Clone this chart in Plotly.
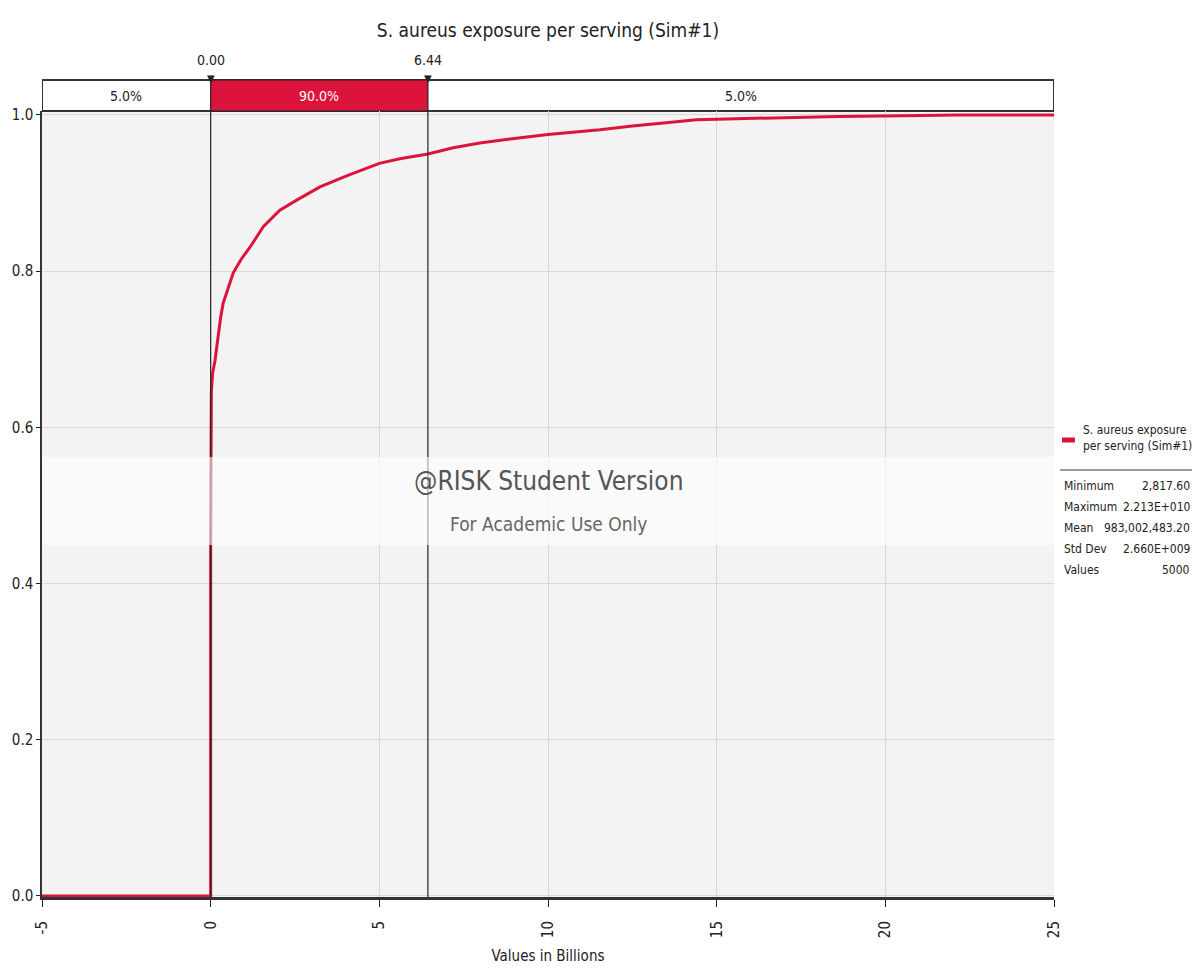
import plotly.graph_objects as go

# ---- data (values in billions) ----
cdf_x = [-5.0, 0.0, 0.0, 0.0, 0.02, 0.06, 0.13, 0.18, 0.23, 0.30, 0.37, 0.50, 0.67, 0.90,
         1.17, 1.56, 2.05, 2.55, 3.24, 4.03, 4.72, 5.0, 5.61, 6.44, 7.19, 7.98, 9.0, 10.0,
         11.54, 12.5, 13.5, 14.4, 15.3, 16.3, 17.2, 18.6, 20.5, 22.13, 25.0]
cdf_p = [0.0, 0.0, 0.45, 0.60, 0.645, 0.67, 0.686, 0.703, 0.72, 0.742, 0.759, 0.777, 0.798, 0.815,
         0.831, 0.857, 0.878, 0.891, 0.908, 0.922, 0.933, 0.938, 0.944, 0.950, 0.958, 0.964, 0.970, 0.975,
         0.981, 0.986, 0.990, 0.994, 0.995, 0.996, 0.997, 0.998, 0.999, 1.0, 1.0]

split_lo = 0.00
split_hi = 6.44
x_min, x_max = -5, 25
seg_pcts = ["5.0%", "90.0%", "5.0%"]

series_name = "S. aureus exposure per serving (Sim#1)"
stat_labels = ["Minimum", "Maximum", "Mean", "Std Dev", "Values"]
stat_values = ["2,817.60", "2.213E+010", "983,002,483.20", "2.660E+009", "5000"]

x_ticks = [-5, 0, 5, 10, 15, 20, 25]
y_ticks = [0.0, 0.2, 0.4, 0.6, 0.8, 1.0]

FONT = "DejaVu Sans Condensed, Liberation Sans Narrow, Liberation Sans, sans-serif"
RED = "#DC143C"

W, H = 1201, 970
L, R, T, B = 42, 147, 111, 73
PW, PH = W - L - R, H - T - B


def px(x):
    return (x - L) / PW


def py(y):
    return (H - B - y) / PH


fig = go.Figure()
fig.add_trace(go.Scatter(x=cdf_x, y=cdf_p, mode="lines",
                         line=dict(color=RED, width=3), showlegend=False,
                         hoverinfo="x+y"))

shapes = []
# top bar
bar_y0, bar_y1 = py(111), py(80)
shapes.append(dict(type="rect", xref="x", yref="paper", x0=x_min, x1=x_max, y0=bar_y0, y1=bar_y1,
                   fillcolor="white", line=dict(color="#333", width=2), layer="below"))
shapes.append(dict(type="rect", xref="x", yref="paper", x0=split_lo, x1=split_hi, y0=bar_y0, y1=bar_y1,
                   fillcolor=RED, line=dict(color="#222", width=1.2), layer="below"))
# vertical delimiter lines
for v in (split_lo, split_hi):
    shapes.append(dict(type="line", xref="x", yref="paper", x0=v, x1=v, y0=0, y1=1,
                       line=dict(color="#222", width=1.2), layer="above"))
# watermark band
shapes.append(dict(type="rect", xref="paper", yref="paper", x0=0, x1=1, y0=py(545), y1=py(457),
                   fillcolor="rgba(255,255,255,0.6)", line=dict(width=0), layer="above"))
# legend swatch and separator
shapes.append(dict(type="line", xref="paper", yref="paper", x0=px(1062), x1=px(1075),
                   y0=py(440), y1=py(440), line=dict(color=RED, width=5)))
shapes.append(dict(type="line", xref="paper", yref="paper", x0=px(1060), x1=px(1192),
                   y0=py(470), y1=py(470), line=dict(color="#999", width=2)))

ann = []
centers = [(x_min + split_lo) / 2, (split_lo + split_hi) / 2, (split_hi + x_max) / 2]
for c, t, col in zip(centers, seg_pcts, ["#222", "white", "#222"]):
    ann.append(dict(x=c, y=py(96), xref="x", yref="paper", text=t, showarrow=False,
                    yanchor="middle", font=dict(family=FONT, size=14, color=col)))
for v in (split_lo, split_hi):
    ann.append(dict(x=v, y=py(60), xref="x", yref="paper", text=f"{v:.2f}", showarrow=False,
                    yanchor="middle", font=dict(family=FONT, size=14, color="#222")))
    ann.append(dict(x=v, y=py(78), xref="x", yref="paper", text="▼", showarrow=False,
                    yanchor="middle", font=dict(family="DejaVu Sans", size=10, color="#222")))
ann.append(dict(x=0.5, y=py(481), xref="paper", yref="paper", text="@RISK Student Version",
                showarrow=False, yanchor="middle", font=dict(family=FONT, size=26, color="#555")))
ann.append(dict(x=0.5, y=py(524), xref="paper", yref="paper", text="For Academic Use Only",
                showarrow=False, yanchor="middle", font=dict(family=FONT, size=19, color="#666")))
ann.append(dict(x=px(1081), y=py(438), xref="paper", yref="paper",
                text="S. aureus exposure<br>per serving (Sim#1)", showarrow=False,
                xanchor="left", yanchor="middle", align="left",
                font=dict(family=FONT, size=12, color="#222")))
for i, (lab, val) in enumerate(zip(stat_labels, stat_values)):
    yy = py(486 + 21 * i)
    ann.append(dict(x=px(1062), y=yy, xref="paper", yref="paper", text=lab, showarrow=False,
                    xanchor="left", yanchor="middle", font=dict(family=FONT, size=12, color="#222")))
    ann.append(dict(x=px(1192), y=yy, xref="paper", yref="paper", text=val, showarrow=False,
                    xanchor="right", yanchor="middle", font=dict(family=FONT, size=12, color="#222")))

fig.update_layout(
    width=W, height=H,
    margin=dict(l=L, r=R, t=T, b=B, autoexpand=False),
    paper_bgcolor="white", plot_bgcolor="#f3f3f3",
    title=dict(text=series_name, xref="paper", x=px(548), xanchor="center",
               yref="container", y=1 - 30 / H, yanchor="middle",
               font=dict(family=FONT, size=19, color="#222")),
    font=dict(family=FONT, size=14, color="#222"),
    shapes=shapes, annotations=ann, showlegend=False,
    xaxis=dict(range=[x_min, x_max], tickvals=x_ticks, ticktext=[str(t) for t in x_ticks],
               tickangle=-90, ticks="outside", ticklen=7, tickcolor="#222",
               ticklabelstandoff=8,
               showgrid=True, gridcolor="#d9d9d9", gridwidth=1, zeroline=False,
               showline=True, linecolor="#333", linewidth=3,
               title=dict(text="Values in Billions", font=dict(family=FONT, size=15), standoff=14),
               tickfont=dict(family=FONT, size=15)),
    yaxis=dict(range=[-0.0013, 1.0051], tickvals=y_ticks, ticktext=[f"{t:.1f}" for t in y_ticks],
               ticks="outside", ticklen=4, tickcolor="#222",
               showgrid=True, gridcolor="#d9d9d9", gridwidth=1, zeroline=False,
               showline=True, linecolor="#333", linewidth=1.5,
               tickfont=dict(family=FONT, size=15)),
)

fig.write_html("out.html")
